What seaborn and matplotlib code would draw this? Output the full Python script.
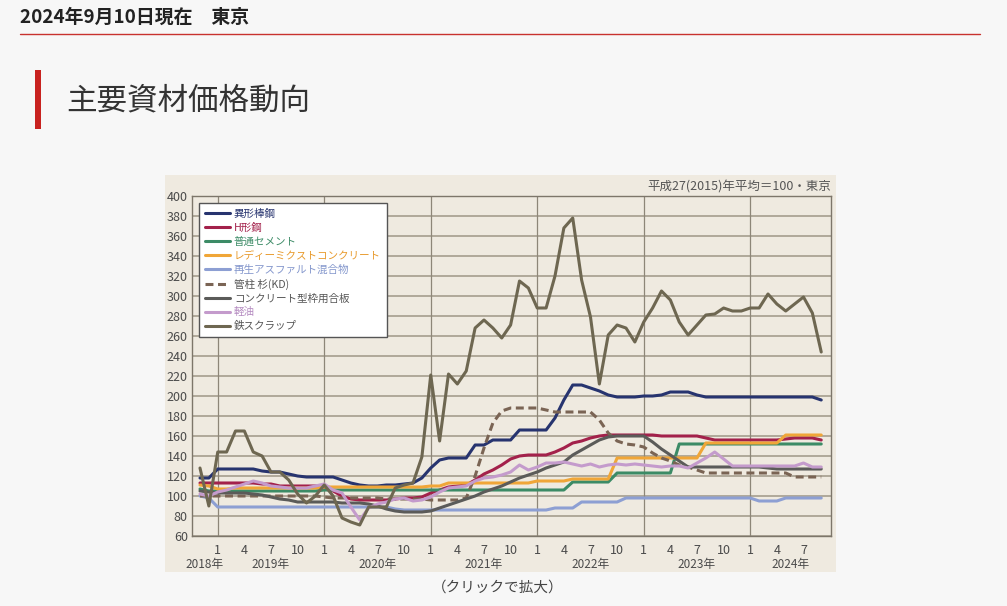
import numpy as np
import pandas as pd
import matplotlib
matplotlib.use("Agg")
import matplotlib.pyplot as plt
import seaborn as sns
from matplotlib.patches import Rectangle
from matplotlib.lines import Line2D

# ---------------- data (monthly, Nov 2018 - Sep 2024) ----------------
months = pd.period_range("2018-11", "2024-09", freq="M")

rebar = [118, 118,
         127, 127, 127, 127, 127, 125, 124, 124, 122, 120, 119, 119,
         119, 119, 116, 113, 111, 110, 110, 111, 111, 112, 113, 118,
         128, 136, 138, 138, 138, 151, 151, 156, 156, 156, 166, 166,
         166, 166, 178, 196, 211, 211, 208, 205, 201, 199, 199, 199,
         200, 200, 201, 204, 204, 204, 201, 199, 199, 199, 199, 199,
         199, 199, 199, 199, 199, 199, 199, 199, 196]
h_steel = [113, 113,
           113, 113, 113, 113, 113, 112, 112, 110, 110, 110, 110, 110,
           109, 105, 100, 97, 96, 96, 96, 96, 97, 98, 98, 99,
           103, 106, 109, 110, 111, 116, 122, 126, 131, 137, 140, 141,
           141, 141, 144, 148, 153, 155, 158, 160, 161, 161, 161, 161,
           161, 161, 160, 160, 160, 160, 160, 158, 156, 156, 156, 156,
           156, 156, 156, 156, 157, 158, 158, 158, 156]
cement = [107, 105,
          105, 105, 105, 105, 105, 105, 105, 105, 105, 105, 105, 105,
          106, 106, 106, 106, 106, 106, 106, 106, 106, 106, 106, 106,
          106, 106, 106, 106, 106, 106, 106, 106, 106, 106, 106, 106,
          106, 106, 106, 106, 114, 114, 114, 114, 114, 123, 123, 123,
          123, 123, 123, 123, 152, 152, 152, 152, 152, 152, 152, 152,
          152, 152, 152, 152, 152, 152, 152, 152, 152]
ready_mix = [111, 110,
             107, 107, 108, 108, 108, 108, 108, 108, 108, 108, 108, 108,
             109, 109, 109, 109, 109, 109, 109, 109, 109, 109, 109, 109,
             110, 110, 113, 113, 113, 113, 113, 113, 113, 113, 113, 113,
             115, 115, 115, 115, 117, 117, 117, 117, 117, 138, 138, 138,
             138, 138, 138, 138, 138, 138, 138, 153, 153, 153, 153, 153,
             153, 153, 153, 153, 161, 161, 161, 161, 161]
asphalt = [100, 98,
           89, 89, 89, 89, 89, 89, 89, 89, 89, 89, 89, 89,
           89, 89, 89, 89, 89, 89, 89, 89, 87, 86, 86, 86,
           86, 86, 86, 86, 86, 86, 86, 86, 86, 86, 86, 86,
           86, 86, 88, 88, 88, 94, 94, 94, 94, 94, 98, 98,
           98, 98, 98, 98, 98, 98, 98, 98, 98, 98, 98, 98,
           98, 95, 95, 95, 98, 98, 98, 98, 98]
cedar = [100, 100,
         100, 100, 100, 100, 100, 100, 100, 100, 100, 100, 100, 100,
         99, 98, 98, 98, 98, 98, 98, 97, 97, 97, 97, 97,
         96, 96, 96, 96, 98, 120, 148, 173, 185, 188, 188, 188,
         188, 186, 184, 184, 184, 184, 184, 176, 163, 155, 152, 151,
         149, 143, 138, 135, 131, 129, 126, 123, 123, 123, 123, 123,
         123, 123, 123, 123, 123, 119, 119, 119, 119]
plywood = [105, 104,
           103, 103, 103, 103, 102, 101, 99, 97, 96, 94, 94, 94,
           94, 94, 93, 93, 93, 92, 90, 87, 85, 84, 84, 84,
           85, 88, 91, 94, 97, 100, 104, 107, 110, 114, 118, 121,
           124, 128, 131, 134, 141, 146, 151, 156, 159, 160, 160, 160,
           160, 154, 147, 141, 135, 129, 129, 129, 129, 129, 129, 129,
           129, 129, 128, 127, 127, 127, 127, 127, 127]
diesel = [102, 100,
          104, 106, 109, 112, 115, 113, 110, 109, 108, 108, 108, 110,
          112, 106, 103, 89, 76, 88, 92, 94, 97, 98, 95, 96,
          99, 104, 108, 109, 110, 115, 118, 119, 121, 124, 131, 126,
          129, 133, 133, 134, 132, 130, 132, 129, 131, 132, 131, 132,
          131, 130, 129, 130, 130, 128, 133, 138, 144, 137, 130, 130,
          130, 130, 130, 130, 130, 130, 133, 129, 129]
scrap = [128, 90,
         144, 144, 165, 165, 144, 140, 124, 124, 116, 102, 93, 100,
         111, 100, 78, 74, 71, 89, 89, 89, 108, 111, 113, 139,
         221, 155, 222, 212, 225, 268, 276, 268, 258, 271, 315, 308,
         288, 288, 320, 368, 378, 316, 279, 212, 261, 271, 268, 254,
         274, 288, 305, 296, 274, 261, 271, 281, 282, 288, 285, 285,
         288, 288, 302, 292, 285, 292, 299, 283, 244]

series_names = ["異形棒鋼", "H形鋼", "普通セメント", "レディーミクストコンクリート",
                "再生アスファルト混合物", "管柱 杉(KD)", "コンクリート型枠用合板",
                "軽油", "鉄スクラップ"]
series_values = [rebar, h_steel, cement, ready_mix, asphalt, cedar, plywood, diesel, scrap]
line_colors = ["#27346f", "#a3214b", "#3c8b66", "#f0a638", "#8d9fd3",
               "#7a6454", "#5b5b59", "#c49bcc", "#6e6751"]
text_colors = ["#27346f", "#a3214b", "#3c8b66", "#e89a2c", "#8396cc",
               "#555555", "#555555", "#b48ac0", "#555555"]
dashed = ["管柱 杉(KD)"]

# ---------------- figure ----------------
sns.set_style("white")
plt.rcParams["font.family"] = ["Noto Sans CJK JP", "DejaVu Sans"]

W, H = 1007, 606
fig = plt.figure(figsize=(W / 100, H / 100), dpi=100, facecolor="#f7f7f7")

def fx(px):
    return px / W

def fy(py):
    return 1 - py / H

# page header
fig.text(fx(20), fy(17), "2024年9月10日現在　東京", fontsize=13.6, fontweight="bold",
         color="#222222", va="center", ha="left")
fig.add_artist(Line2D([fx(20), fx(980)], [fy(34), fy(34)], color="#c8322e", lw=1.0))
fig.add_artist(Rectangle((fx(35), fy(129)), fx(6), 59 / H, facecolor="#c8221f",
                         edgecolor="none"))
fig.text(fx(66), fy(101), "主要資材価格動向", fontsize=22, color="#333333",
         va="center", ha="left")
fig.text(fx(498), fy(588), "（クリックで拡大）", fontsize=10.5, color="#444444",
         va="center", ha="center")

# beige chart panel
fig.add_artist(Rectangle((fx(165), fy(572)), fx(671), 397 / H, facecolor="#efeae0",
                         edgecolor="none", zorder=-5))

ax = fig.add_axes([fx(192), fy(536), fx(639), 340 / H])
ax.set_facecolor("#efeae0")

x = np.arange(len(months))
rows = []
for name, vals in zip(series_names, series_values):
    for i, v in zip(x, vals):
        rows.append((i, v, name))
df = pd.DataFrame(rows, columns=["idx", "value", "series"])

for name, col in zip(series_names, line_colors):
    sub = df[df["series"] == name]
    sns.lineplot(data=sub, x="idx", y="value", color=col, lw=2.2, ax=ax,
                 label=name, errorbar=None, zorder=3)
    if name in dashed:
        ax.lines[-1].set_dashes([2.6, 1.5])

ax.set_xlim(-0.9, 71.1)
ax.set_ylim(60, 400)
ax.set_yticks(np.arange(60, 401, 20))
ax.yaxis.grid(True, color="#9f9786", lw=1.1)
ax.set_axisbelow(True)
ax.set_xlabel("")
ax.set_ylabel("")

month_nums = np.array([p.month for p in months])
years = np.array([p.year for p in months])
jan_idx = x[month_nums == 1]
for j in jan_idx:
    ax.axvline(j, color="#8d8678", lw=0.9, zorder=1)

tick_idx = x[np.isin(month_nums, [1, 4, 7, 10])]
ax.set_xticks(tick_idx)
ax.set_xticklabels([str(m) for m in month_nums[tick_idx]])
ax.tick_params(axis="x", direction="in", length=4, width=0.8, color="#9a9384",
               pad=6, labelsize=9, labelcolor="#4a4a4a")
ax.tick_params(axis="y", length=0, pad=3, labelsize=9, labelcolor="#4a4a4a")

# year labels centred in each visible year span
lo, hi = ax.get_xlim()
bounds = [lo] + list(jan_idx) + [hi]
for k, yr in enumerate(sorted(set(years))):
    cx = (bounds[k] + bounds[k + 1]) / 2
    ax.text(cx, -0.083, f"{yr}年", transform=ax.get_xaxis_transform(),
            ha="center", va="center", fontsize=8.5, color="#4a4a4a")

for s in ax.spines.values():
    s.set_color("#7d766a")
    s.set_linewidth(1.0)

ax.text(1.0, 1.027, "平成27(2015)年平均＝100・東京", transform=ax.transAxes,
        ha="right", va="center", fontsize=9, color="#555555")

leg = ax.legend(loc="upper left", bbox_to_anchor=(0.011, 0.979), borderaxespad=0,
                fontsize=7.6, handlelength=2.4, handletextpad=0.35,
                labelspacing=0.36, borderpad=0.55, frameon=True, fancybox=False,
                framealpha=1, facecolor="white", edgecolor="#555555")
leg.get_frame().set_linewidth(1.0)
for t, c in zip(leg.get_texts(), text_colors):
    t.set_color(c)

fig.savefig("out.png", dpi=100, facecolor=fig.get_facecolor())
